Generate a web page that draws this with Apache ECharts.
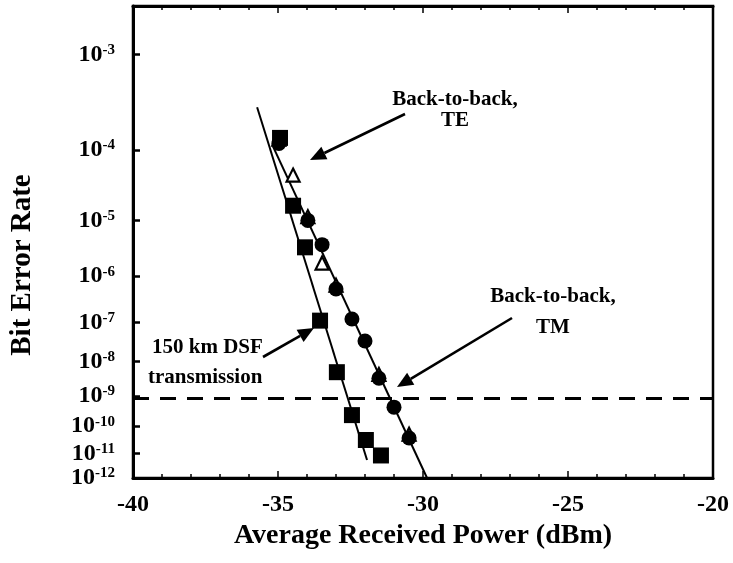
<!DOCTYPE html>
<html>
<head>
<meta charset="utf-8">
<script src="https://cdn.jsdelivr.net/npm/echarts@6/dist/echarts.min.js"></script>
<style>html,body{margin:0;padding:0;background:#fff;}#c{width:733px;height:563px;}</style>
</head>
<body>
<div id="c"></div>
<script>
// ---- data ----
const dsfPower = [-34.93, -34.48, -34.07, -33.55, -32.97, -32.45, -31.97, -31.45];
const dsfBer   = [1.4e-4, 1.7e-5, 3.5e-6, 1.1e-7, 5.1e-9, 2.4e-10, 3.2e-11, 8.3e-12];
const tmPower  = [-34.97, -33.97, -33.48, -33.0, -32.45, -32.0, -31.52, -31.0, -30.48];
const tmBer    = [1.2e-4, 1.0e-5, 3.9e-6, 5.5e-7, 1.2e-7, 3.5e-8, 3.4e-9, 4.4e-10, 3.8e-11];
const tePower  = [-34.97, -34.48, -33.97, -33.48, -33.0, -31.52, -30.48];
const teBer    = [1.35e-4, 4.7e-5, 1.15e-5, 1.8e-6, 6.6e-7, 4.4e-9, 5.2e-11];
const fitDsfPower = [-35.72, -31.93];
const fitDsfBer   = [3.1e-4, 5.5e-12];
const fitBtbPower = [-35.17, -29.86];
const fitBtbBer   = [1.1e-4, 1e-12];
const thresholdBer = 1e-9;
const yTickExps = [3, 4, 5, 6, 7, 8, 9, 10, 11, 12];
const xTicks = [-40, -35, -30, -25, -20];

// ---- BER -> log10(Q) scale ----
function erfc(x) {
  const z = Math.abs(x), t = 1 / (1 + 0.5 * z);
  const r = t * Math.exp(-z * z - 1.26551223 + t * (1.00002368 + t * (0.37409196 + t * (0.09678418 +
    t * (-0.18628806 + t * (0.27886807 + t * (-1.13520398 + t * (1.48851587 + t * (-0.82215223 + t * 0.17087277)))))))));
  return x >= 0 ? r : 2 - r;
}
function qOf(ber) {
  let lo = 0, hi = 12;
  for (let i = 0; i < 100; i++) {
    const m = (lo + hi) / 2;
    if (0.5 * erfc(m / Math.SQRT2) > ber) lo = m; else hi = m;
  }
  return (lo + hi) / 2;
}
function tq(ber) { return Math.log10(qOf(ber)); }
function pts(px, bers) { return px.map((p, i) => [p, tq(bers[i])]); }

const yTickVals = yTickExps.map(e => tq(Math.pow(10, -e)));
const yMin = 0.449;
const yMax = tq(1e-12);

const FONT = '"Liberation Serif", "Times New Roman", serif';

function arrow(x1, y1, x2, y2, len, half) {
  const a = Math.atan2(y2 - y1, x2 - x1);
  const bx = x2 - len * Math.cos(a), by = y2 - len * Math.sin(a);
  const nx = -Math.sin(a) * half, ny = Math.cos(a) * half;
  return [
    { type: 'line', shape: { x1: x1, y1: y1, x2: bx, y2: by }, style: { stroke: '#000', lineWidth: 2.6 }, z: 100 },
    { type: 'polygon', shape: { points: [[x2, y2], [bx + nx, by + ny], [bx - nx, by - ny]] }, style: { fill: '#000' }, z: 100 }
  ];
}
function label(text, x, y, align) {
  return { type: 'text', x: x, y: y, z: 100,
    style: { text: text, font: 'bold 21px ' + FONT, fill: '#000', align: align || 'center', verticalAlign: 'middle' } };
}

const chart = echarts.init(document.getElementById('c'), null, { renderer: 'canvas' });
const option = {
  backgroundColor: '#fff',
  animation: false,
  grid: { left: 133, right: 20, top: 6, bottom: 85, show: true, borderColor: '#000', borderWidth: 2.5 },
  xAxis: [{
    type: 'value', min: -40, max: -20, interval: 5, position: 'bottom',
    name: 'Average Received Power (dBm)', nameLocation: 'middle', nameGap: 42,
    nameTextStyle: { fontFamily: FONT, fontWeight: 'bold', fontSize: 28, color: '#000' },
    axisLine: { show: true, lineStyle: { color: '#000', width: 3 } },
    axisTick: { show: true, inside: true, length: 7, lineStyle: { color: '#000', width: 1.5 } },
    minorTick: { show: true, splitNumber: 5, length: 4, lineStyle: { color: '#000', width: 1.5 } },
    axisLabel: { margin: 15, fontFamily: FONT, fontWeight: 'bold', fontSize: 24, color: '#000',
      customValues: xTicks, formatter: v => String(v) },
    splitLine: { show: false }
  }, {
    type: 'value', min: -40, max: -20, interval: 5, position: 'top',
    axisLine: { show: true, lineStyle: { color: '#000', width: 3 } },
    axisTick: { show: true, inside: true, length: 7, lineStyle: { color: '#000', width: 1.5 } },
    minorTick: { show: true, splitNumber: 5, length: 4, lineStyle: { color: '#000', width: 1.5 } },
    axisLabel: { show: false }, splitLine: { show: false }
  }],
  yAxis: [{
    type: 'value', min: yMin, max: yMax, inverse: true,
    axisLine: { show: true, lineStyle: { color: '#000', width: 3 } },
    axisTick: { show: true, inside: true, length: 7, customValues: yTickVals, lineStyle: { color: '#000', width: 2.5 } },
    axisLabel: {
      show: true, margin: 18, customValues: yTickVals,
      formatter: function (v) {
        let best = 0, d = 1e9;
        yTickVals.forEach((t, i) => { if (Math.abs(t - v) < d) { d = Math.abs(t - v); best = i; } });
        return '{b|10}{s|-' + yTickExps[best] + '}';
      },
      rich: {
        b: { fontFamily: FONT, fontWeight: 'bold', fontSize: 24, color: '#000' },
        s: { fontFamily: FONT, fontWeight: 'bold', fontSize: 15, color: '#000', verticalAlign: 'top' }
      }
    },
    splitLine: { show: false }
  }],
  series: [
    { name: 'fit DSF', type: 'line', data: pts(fitDsfPower, fitDsfBer), showSymbol: false,
      lineStyle: { color: '#000', width: 2 }, z: 2, silent: true },
    { name: 'fit back-to-back', type: 'line', data: pts(fitBtbPower, fitBtbBer), showSymbol: false,
      lineStyle: { color: '#000', width: 2 }, z: 2, silent: true,
      markLine: { silent: true, symbol: ['none', 'none'], label: { show: false },
        lineStyle: { color: '#000', width: 3, type: [16, 11] },
        data: [{ yAxis: tq(thresholdBer) }] } },
    { name: 'Back-to-back, TE', type: 'scatter', data: pts(tePower, teBer), symbol: 'triangle', symbolSize: 13,
      itemStyle: { color: '#fff', borderColor: '#000', borderWidth: 2.2, opacity: 1 }, z: 3 },
    { name: 'Back-to-back, TM', type: 'scatter', data: pts(tmPower, tmBer), symbol: 'circle', symbolSize: 15,
      itemStyle: { color: '#000', opacity: 1 }, z: 4 },
    { name: '150 km DSF transmission', type: 'scatter', data: pts(dsfPower, dsfBer), symbol: 'rect', symbolSize: 16,
      itemStyle: { color: '#000', opacity: 1 }, z: 5 }
  ],
  graphic: [].concat(
    { type: 'text', x: 23, y: 265, rotation: Math.PI / 2, z: 100,
      style: { text: 'Bit Error Rate', font: 'bold 29px ' + FONT, fill: '#000', align: 'center', verticalAlign: 'middle' } },
    label('Back-to-back,', 455, 100), label('TE', 455, 121),
    arrow(405, 114, 310, 160, 16, 7),
    label('Back-to-back,', 553, 297), label('TM', 553, 328),
    arrow(512, 318, 397, 387, 16, 7),
    label('150 km DSF', 152, 348, 'left'), label('transmission', 148, 378, 'left'),
    arrow(263, 357, 314, 328, 16, 7)
  )
};
chart.setOption(option);
</script>
</body>
</html>
